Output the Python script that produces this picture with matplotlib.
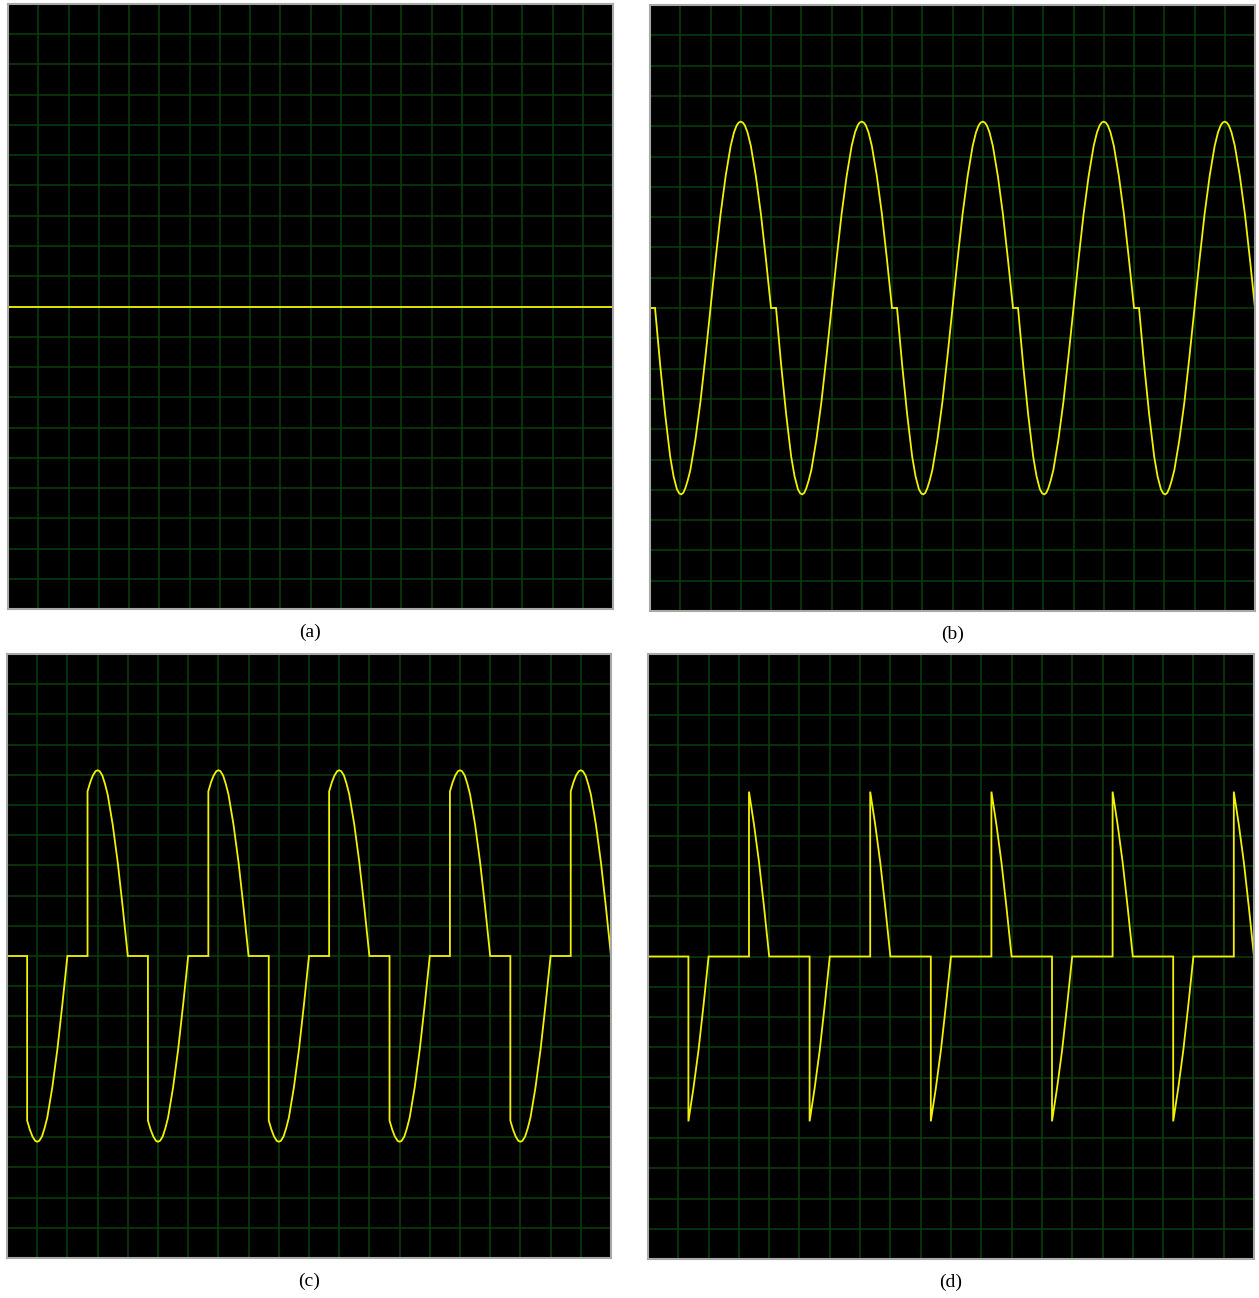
import numpy as np
import matplotlib
matplotlib.use("Agg")
import matplotlib.pyplot as plt

# one period of each trace, phase in degrees, amplitude in grid divisions
a_phase = [0, 360]
a_volts = [0, 0]

b_phase = [0, 15, 30, 45, 60, 70, 80, 87, 93, 99, 105, 112, 120, 135, 150, 165, 180,
           195, 210, 225, 240, 250, 258, 264, 270, 276, 282, 290, 300, 315, 330, 345, 360]
b_volts = [0, 0, -1.85, -3.5, -4.9, -5.55, -5.98, -6.12, -6.15, -6.1, -5.95, -5.7, -5.35,
           -4.35, -3.1, -1.6, 0,
           1.6, 3.1, 4.35, 5.35, 5.8, 6.03, 6.12, 6.15, 6.12, 6.03, 5.8, 5.35, 4.35, 3.1, 1.6, 0]

c_phase = [0, 60, 60, 68, 76, 84, 90, 96, 104, 112, 120, 135, 150, 165, 180,
           240, 240, 248, 256, 264, 270, 276, 284, 292, 300, 315, 330, 345, 360]
c_volts = [0, 0, -5.45, -5.75, -5.98, -6.12, -6.15, -6.12, -5.98, -5.7, -5.35,
           -4.35, -3.1, -1.6, 0,
           0, 5.45, 5.75, 5.98, 6.12, 6.15, 6.12, 5.98, 5.7, 5.35, 4.35, 3.1, 1.6, 0]

d_phase = [0, 120, 120, 135, 150, 165, 180, 300, 300, 315, 330, 345, 360]
d_volts = [0, 0, -5.45, -4.35, -3.1, -1.6, 0, 0, 5.45, 4.35, 3.1, 1.6, 0]

labels = ["(a)", "(b)", "(c)", "(d)"]
n_cycles = 5
div_per_cycle = 4

GRID = "#0b3f0b"
TRACE = "#f2f200"


def trace(phase, volts):
    xs, ys = [], []
    for k in range(n_cycles):
        xs.extend(k * div_per_cycle + np.array(phase) / 90.0)
        ys.extend(volts)
    return np.array(xs), np.array(ys)


fig = plt.figure(figsize=(12.59, 12.98), dpi=100)
fig.patch.set_facecolor("white")

# [left, bottom, width, height] in figure fractions
boxes = [
    [8 / 1259, 689 / 1298, 605 / 1259, 605 / 1298],
    [650 / 1259, 687 / 1298, 605 / 1259, 606 / 1298],
    [7 / 1259, 40 / 1298, 604 / 1259, 604 / 1298],
    [648 / 1259, 39 / 1298, 606 / 1259, 605 / 1298],
]
series = [(a_phase, a_volts), (b_phase, b_volts), (c_phase, c_volts), (d_phase, d_volts)]

for box, (ph, vo), lab in zip(boxes, series, labels):
    ax = fig.add_axes(box)
    ax.set_facecolor("black")
    ax.set_xlim(0, 20)
    ax.set_ylim(-10, 10)
    ax.set_xticks(range(0, 21))
    ax.set_yticks(range(-10, 11))
    ax.tick_params(length=0, labelbottom=False, labelleft=False)
    ax.grid(True, color=GRID, lw=1.1)
    ax.set_axisbelow(True)
    for s in ax.spines.values():
        s.set_color("#a8a8a8")
        s.set_linewidth(1.5)
    x, y = trace(ph, vo)
    ax.plot(x, y, color=TRACE, lw=1.3, solid_joinstyle="miter")
    cx = box[0] + box[2] / 2
    fig.text(cx, box[1] - 23 / 1298, lab, ha="center", va="center",
             fontsize=14, family="Liberation Serif")

fig.savefig("out.png", dpi=100, facecolor="white")
